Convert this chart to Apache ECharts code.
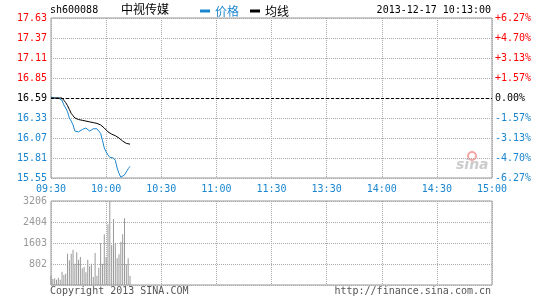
<!DOCTYPE html>
<html>
<head>
<meta charset="utf-8">
<script src="https://cdn.jsdelivr.net/npm/echarts@6/dist/echarts.min.js"></script>
<style>html,body{margin:0;padding:0;background:#fff;}#c{width:545px;height:300px;}</style>
</head>
<body>
<div id="c"></div>
<script>
// ---- data ----
var timeLabels = ['09:30','10:00','10:30','11:00','11:30','13:30','14:00','14:30','15:00'];
var priceLabels = ['15.55','15.81','16.07','16.33','16.59','16.85','17.11','17.37','17.63'];
var pctLabels = ['-6.27%','-4.70%','-3.13%','-1.57%','0.00%','+1.57%','+3.13%','+4.70%','+6.27%'];
var volLabels = ['','802','1603','2404','3206'];
var prevClose = 16.59;
var price = [16.60,16.59,16.59,16.59,16.59,16.59,16.56,16.50,16.46,16.41,
             16.33,16.29,16.24,16.16,16.14,16.15,16.16,16.18,16.19,16.20,
             16.19,16.16,16.16,16.19,16.20,16.19,16.16,16.13,16.04,15.94,
             15.89,15.85,15.82,15.82,15.81,15.78,15.68,15.61,15.56,15.54,
             15.59,15.63,15.67,15.70];
var avg = [16.59,16.59,16.59,16.59,16.59,16.59,16.59,16.56,16.53,16.49,
           16.44,16.39,16.36,16.33,16.32,16.31,16.30,16.30,16.29,16.29,
           16.28,16.28,16.27,16.27,16.26,16.26,16.25,16.24,16.22,16.20,
           16.18,16.15,16.14,16.12,16.10,16.10,16.09,16.07,16.05,16.03,
           16.01,16.00,16.00,15.99];
var volume = [356,229,254,204,280,204,509,382,432,1196,
              941,1196,1348,814,1247,967,1068,636,687,483,
              967,712,814,305,1221,356,661,1603,814,1934,
              1068,2315,3206,1526,2519,1603,1018,1170,1654,1934,
              2545,789,1018,356];

// ---- build ----
var BASE = 1555; // price axis in cents offset from 15.55
function toAxis(p){ return Math.round(p*100) - BASE; }
var priceData = price.map(function(p,i){ return [i, toAxis(p)]; });
var avgData = avg.map(function(p,i){ return [i, toAxis(p)]; });
var volData = volume.map(function(v,i){ return [i, v]; });
var BLUE = '#1a86cf';
var MONO = 'DejaVu Sans Mono';
var grid = '#999999';
var split = {show:true, lineStyle:{color:'#aaaaaa', type:[1,1], width:1}};

var chart = echarts.init(document.getElementById('c'), null, {renderer:'canvas'});
chart.setOption({
  animation:false,
  backgroundColor:'#ffffff',
  textStyle:{fontFamily:MONO},
  legend:{
    left:200, top:5, padding:0, itemWidth:10, itemHeight:3, itemGap:11, icon:'rect',
    textStyle:{fontFamily:'Noto Sans CJK SC', fontSize:12},
    data:[{name:'价格', textStyle:{color:BLUE}}, {name:'均线', textStyle:{color:'#000'}}]
  },
  grid:[
    {left:51, top:18, width:441, height:160, show:true, borderColor:grid, borderWidth:1},
    {left:51, top:201, width:441, height:84, show:true, borderColor:grid, borderWidth:1}
  ],
  xAxis:[
    {gridIndex:0, type:'value', min:0, max:240, interval:30,
     axisLine:{show:false}, axisTick:{show:false}, splitLine:split,
     axisLabel:{show:true, margin:6, color:BLUE, fontFamily:MONO, fontSize:10, showMinLabel:true, showMaxLabel:true,
       formatter:function(v){ return timeLabels[Math.round(v/30)] || ''; }}},
    {gridIndex:1, type:'value', min:0, max:240, interval:30,
     axisLine:{show:false}, axisTick:{show:false}, splitLine:split, axisLabel:{show:false}}
  ],
  yAxis:[
    {gridIndex:0, type:'value', min:0, max:208, interval:26, position:'left',
     axisLine:{show:false}, axisTick:{show:false}, splitLine:split,
     axisLabel:{margin:4, fontFamily:MONO, fontSize:10,
       formatter:function(v){ return priceLabels[Math.round(v/26)]; },
       color:function(v){ var k=Math.round(v/26); return k>4?'#ff0000':(k===4?'#000000':BLUE); }}},
    {gridIndex:0, type:'value', min:0, max:208, interval:26, position:'right',
     axisLine:{show:false}, axisTick:{show:false}, splitLine:{show:false},
     axisLabel:{margin:3, fontFamily:MONO, fontSize:10,
       formatter:function(v){ return pctLabels[Math.round(v/26)]; },
       color:function(v){ var k=Math.round(v/26); return k>4?'#ff0000':(k===4?'#000000':BLUE); }}},
    {gridIndex:1, type:'value', min:0, max:3206, interval:801.5, position:'left',
     axisLine:{show:false}, axisTick:{show:false}, splitLine:split,
     axisLabel:{margin:4, fontFamily:MONO, fontSize:10, color:'#999999',
       formatter:function(v){ return volLabels[Math.round(v/801.5)]; }}}
  ],
  series:[
    {name:'价格', type:'line', xAxisIndex:0, yAxisIndex:0, data:priceData, showSymbol:false,
     lineStyle:{color:BLUE, width:1}, itemStyle:{color:BLUE},
     markLine:{silent:true, symbol:'none', label:{show:false},
       lineStyle:{color:'#000', type:[3,2], width:1},
       data:[{yAxis:toAxis(prevClose)}]}},
    {name:'均线', type:'line', xAxisIndex:0, yAxisIndex:0, data:avgData, showSymbol:false,
     lineStyle:{color:'#000', width:1}, itemStyle:{color:'#000'}},
    {name:'成交量', type:'bar', xAxisIndex:1, yAxisIndex:2, data:volData, barWidth:1,
     itemStyle:{color:'#999999'}}
  ],
  graphic:[
    {type:'text', left:50, top:5, style:{text:'sh600088', fill:'#000', font:'10px "DejaVu Sans Mono"'}},
    {type:'text', left:121, top:3, style:{text:'中视传媒', fill:'#000', font:'12px "Noto Sans CJK SC"'}},
    {type:'text', right:54, top:5, style:{text:'2013-12-17 10:13:00', fill:'#000', font:'10px "DejaVu Sans Mono"'}},
    {type:'text', left:50, top:286, style:{text:'Copyright 2013 SINA.COM', fill:'#555', font:'10px "DejaVu Sans Mono"'}},
    {type:'text', right:54, top:286, style:{text:'http://finance.sina.com.cn', fill:'#555', font:'10px "DejaVu Sans Mono"'}},
    {type:'circle', shape:{cx:472, cy:156, r:4}, style:{fill:'none', stroke:'#f4a6a6', lineWidth:2}},
    {type:'text', left:456, top:158, style:{text:'sina', fill:'#cccccc', font:'italic bold 14px "DejaVu Sans"'}}
  ]
});
</script>
</body>
</html>
